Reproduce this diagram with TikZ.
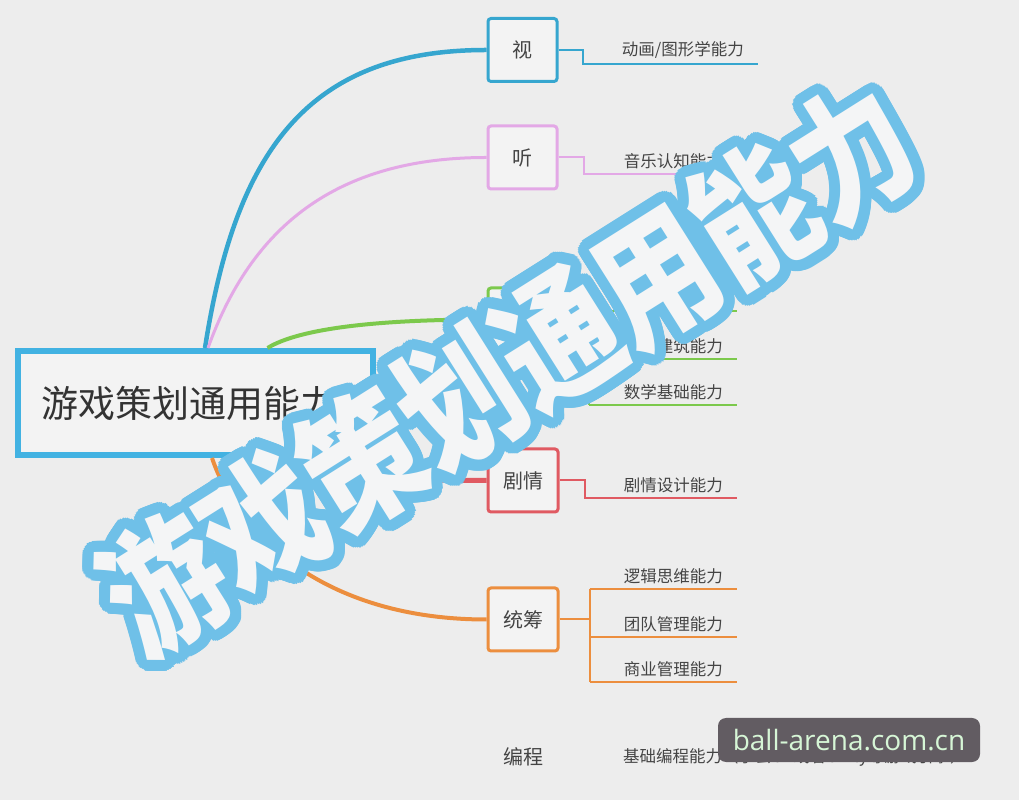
\documentclass[tikz,border=0pt]{standalone}
\usepackage{fontspec}
\setmainfont{Noto Sans CJK SC}
\newfontfamily\wmfont{Noto Sans CJK SC}
\newfontfamily\urlfont{Open Sans}
\usetikzlibrary{calc}

\definecolor{bgcol}{HTML}{EDEDED}
\definecolor{boxfill}{HTML}{F3F3F3}
\definecolor{txtcol}{HTML}{444444}
\definecolor{roottxt}{HTML}{333333}
\definecolor{rootblue}{HTML}{42B2E2}
\definecolor{shiblue}{HTML}{36A6CF}
\definecolor{tingpink}{HTML}{E3A8E6}
\definecolor{kjgreen}{HTML}{7CC94C}
\definecolor{jqred}{HTML}{E05A62}
\definecolor{tcorange}{HTML}{EC8E3E}
\definecolor{wmblue}{HTML}{6FC0E8}
\definecolor{wmfill}{HTML}{F4F5F6}
\definecolor{urlgrey}{HTML}{625C62}
\definecolor{urlgreen}{HTML}{D6F6D6}

\newcommand{\wmtext}{\scalebox{1}[1.2]{游戏策划通用能力}}

\tikzset{
  root/.style={draw=rootblue, line width=6pt, fill=boxfill, minimum width=355pt,
    minimum height=104pt, text width=309pt, align=left, inner xsep=23pt,
    font=\fontsize{37}{44}\selectfont, text=roottxt},
  branch/.style={draw, line width=3pt, rounded corners=3pt, fill=boxfill, anchor=west,
    minimum width=69pt, minimum height=63pt, inner xsep=15pt,
    font=\fontsize{20}{24}\selectfont, text=txtcol},
  leaf/.style={anchor=south east, inner xsep=14pt, inner ysep=5pt,
    font=\fontsize{16.5}{20}\selectfont, text=txtcol},
  link/.style={line width=4pt},
  twig/.style={line width=2pt},
  wm/.style={rotate=32.2, inner sep=0pt, font=\wmfont\bfseries\fontsize{116}{130}\selectfont},
  urlbox/.style={fill=urlgrey, rounded corners=8pt, minimum width=262pt, minimum height=44pt,
    inner sep=0pt, text=urlgreen, font=\urlfont\fontsize{28}{32}\selectfont},
}

\begin{document}
\begin{tikzpicture}[x=1pt,y=1pt]
\fill[bgcol] (0,0) rectangle (1019,800);
\useasboundingbox (0,0) rectangle (1019,800);

% Root
\node[root] (root) at (195.5,397) {游戏策划通用能力};

% Branch boxes
\node[branch, draw=shiblue] (shi) at (486.5,750) {视};
\node[branch, draw=tingpink] (ting) at (486.5,642.5) {听};
\node[branch, draw=kjgreen] (b3) at (486.5,480.5) {};
\node[branch, draw=jqred] (juqing) at (486.5,319.5) {剧情};
\node[branch, draw=tcorange] (tongchou) at (486.5,180.5) {统筹};
\node[branch, draw=none, fill=none] (biancheng) at (486.5,43) {编程};

% Leaves
\node[leaf] (shi1) at (758,736) {动画/图形学能力};
\node[leaf] (ting1) at (737,626) {音乐认知能力};
\coordinate (b3a) at (737,489);
\node[leaf] (b3b) at (737,441) {建筑能力};
\node[leaf] (b3c) at (737,395) {数学基础能力};
\node[leaf] (jq1) at (737,302) {剧情设计能力};
\node[leaf] (tc1) at (737,211) {逻辑思维能力};
\node[leaf] (tc2) at (737,163) {团队管理能力};
\node[leaf] (tc3) at (737,118) {商业管理能力};
\node[leaf, anchor=west] (bc1) at (609,43) {基础编程能力（学会UE或者Unity等游戏引擎）};

% Links from the root
\draw[link, shiblue, line width=4.5pt] ([xshift=9.5pt]root.north) .. controls (236,652) and (310,750) .. (shi.west);
\draw[link, tingpink, line width=3pt] ([xshift=12.5pt]root.north) .. controls (251,572) and (335,642.5) .. (ting.west);
\draw[link, kjgreen] ([xshift=72pt]root.north) .. controls (300,472) and (380,480.5) .. (b3.west);
\draw[link, jqred, line width=5pt] ([xshift=-40pt]root.south east) .. controls (350,320) and (420,319.5) .. (juqing.west);
\draw[link, tcorange] ([xshift=16.5pt]root.south) .. controls (240,260) and (330,180.5) .. (tongchou.west);

% Twigs to the leaves
\draw[twig, shiblue] (shi.east) -- ++(24,0) |- (shi1.south east);
\draw[twig, tingpink] (ting.east) -- ++(25,0) |- (ting1.south east);
\draw[twig, kjgreen] (b3.east) -- ++(30,0) coordinate (b3x);
\draw[twig, kjgreen] (b3x |- b3a) -- (b3x |- b3c.south);
\draw[twig, kjgreen] (b3x |- b3a) -- (b3a);
\draw[twig, kjgreen] (b3x |- b3b.south) -- (b3b.south east);
\draw[twig, kjgreen] (b3x |- b3c.south) -- (b3c.south east);
\draw[twig, jqred] (juqing.east) -- ++(25,0) |- (jq1.south east);
\draw[twig, tcorange] (tongchou.east) -- ++(30,0) coordinate (tcx);
\draw[twig, tcorange] (tcx |- tc1.south) -- (tcx |- tc3.south);
\foreach \l in {tc1,tc2,tc3}
  \draw[twig, tcorange] (tcx |- \l.south) -- (\l.south east);

% Watermark
\coordinate (wmc) at (508,432);
\foreach \ang in {0,10,...,350} {
  \node[wm, text=wmblue] at ($(wmc)+(\ang:11)$) {\wmtext};
  \node[wm, text=wmblue] at ($(wmc)+(\ang:5.5)$) {\wmtext};
}
\node[wm, text=wmfill] (wmark) at (wmc) {\wmtext};

% Site label
\node[urlbox] (url) at (849,60) {ball-arena.com.cn};
\end{tikzpicture}
\end{document}
